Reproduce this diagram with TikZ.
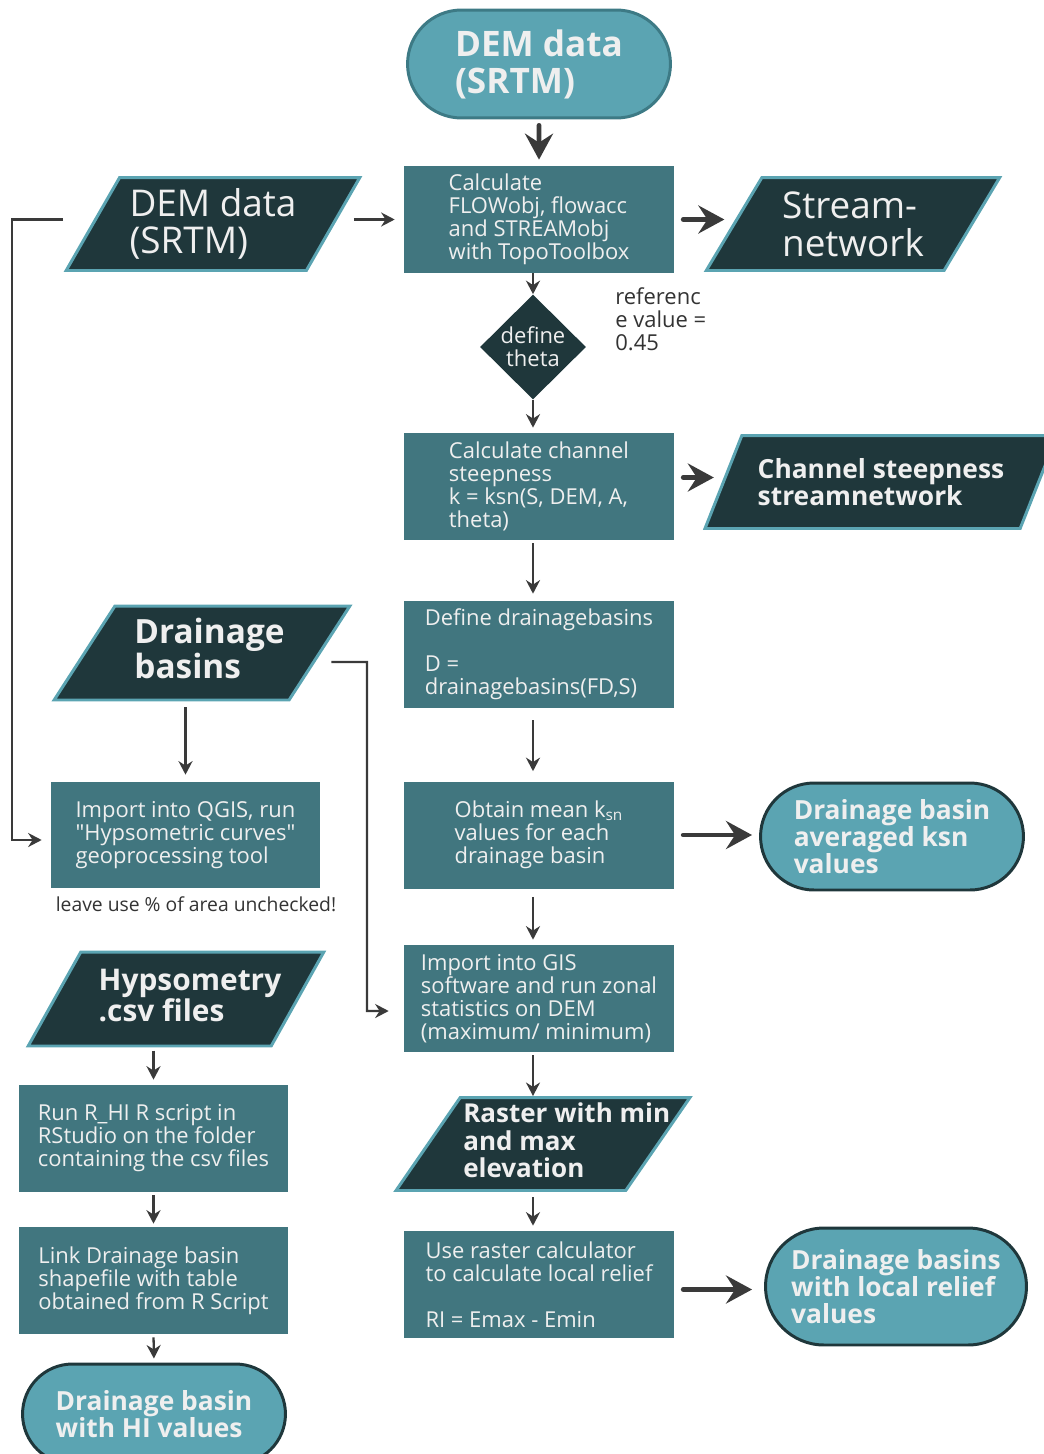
\documentclass[tikz,border=0pt]{standalone}
\usepackage{fontspec}
\setmainfont{Open Sans}
\usetikzlibrary{arrows.meta,shapes.geometric,shapes.misc}
\definecolor{procfill}{HTML}{41767F}
\definecolor{iodark}{HTML}{1F373B}
\definecolor{iolight}{HTML}{5BA4B2}
\definecolor{termfill}{HTML}{5BA4B2}
\definecolor{termedge}{HTML}{3D7A85}
\definecolor{boxtext}{HTML}{EFEFEF}
\definecolor{arrowgray}{HTML}{3A3A3A}
\definecolor{notegray}{HTML}{333333}
\def\bodyfont{\fontsize{12.5}{13.1}\selectfont}
% left-padded text block, to push the text right inside a slanted box
\def\padtext#1#2{\begin{tabular}{@{\hspace{#1}}l@{}}#2\end{tabular}}

\begin{document}
\begin{tikzpicture}[x=0.02cm, y=-0.02cm,
	procbox/.style={rectangle, fill=procfill, text=boxtext, align=left, inner sep=2pt,
		minimum width=5.4cm, minimum height=2.14cm, font=\bodyfont},
	iobox/.style={trapezium, trapezium left angle=57, trapezium right angle=123,
		trapezium stretches=true, fill=iodark, draw=iolight, line width=1.7pt,
		text=boxtext, align=left, inner sep=1pt, minimum width=5.88cm, minimum height=1.86cm},
	termbox/.style={rounded rectangle, fill=termfill, draw=iodark, line width=1.7pt,
		text=boxtext, align=left, inner sep=2pt, minimum width=5.4cm, minimum height=2.14cm,
		font=\bfseries\fontsize{15}{15.5}\selectfont},
	thinarrow/.style={draw=arrowgray, line width=1.3pt, -{Stealth[length=2.7mm, width=2.8mm]}},
	thickarrow/.style={draw=arrowgray, line width=2.8pt, line cap=round,
		-{Stealth[length=5.2mm, width=5.6mm, inset=1.8mm]}}]
			%%%%% START %%%%%
			\useasboundingbox (0, 0) rectangle (1044, 1454);
			
			% main column
			\node[termbox, draw=termedge, minimum height=2.16cm, font=\bfseries\fontsize{20}{21}\selectfont] (dem) at (539, 64) {DEM data\\(SRTM)};
			\node[procbox] (calc) at (539, 219.5) {Calculate\\FLOWobj, flowacc\\and STREAMobj\\with TopoToolbox};
			\node[diamond, fill=iodark, text=boxtext, align=center, inner sep=0pt, minimum width=2.12cm, minimum height=2.1cm, font=\bodyfont] (theta) at (533, 347) {define\\theta};
			\node[procbox] (steep) at (539, 486.5) {Calculate channel\\steepness\\k = ksn(S, DEM, A,\\theta)};
			\node[procbox] (basins) at (539, 654.5) {Define drainagebasins\\[13.1pt]D =\\drainagebasins(FD,S)};
			\node[procbox] (mean) at (539, 835) {Obtain mean k\textsubscript{sn}\\values for each\\drainage basin};
			\node[procbox] (zonal) at (539, 998.5) {Import into GIS\\software and run zonal\\statistics on DEM\\(maximum/ minimum)};
			\node[iobox, inner xsep=-1.5cm, inner ysep=-0.2cm, font=\bfseries\fontsize{14.8}{14.6}\selectfont] (raster) at (543, 1144) {\padtext{0.95cm}{Raster with min\\and max\\elevation}};
			\node[procbox] (relief) at (539, 1284.5) {Use raster calculator\\to calculate local relief\\[13.1pt]RI = Emax - Emin};
			
			% outputs on the right
			\node[iobox, font=\fontsize{21}{21.5}\selectfont] (demin) at (213, 224) {DEM data\\(SRTM)};
			\node[iobox, font=\fontsize{21}{21.5}\selectfont] (stream) at (853, 224) {Stream-\\network};
			\node[iobox, minimum width=7.06cm, font=\bfseries\fontsize{15}{15.5}\selectfont] (chsteep) at (881, 482) {Channel steepness\\streamnetwork};
			\node[termbox] (avgksn) at (892, 836.5) {Drainage basin\\averaged ksn\\values};
			\node[termbox, minimum width=5.36cm, minimum height=2.34cm] (locrel) at (896, 1286.5) {Drainage basins\\with local relief\\values};
			\node[text=notegray, align=left, anchor=north west, inner sep=0pt, font=\bodyfont] (refval) at (615, 287) {referenc\\e value =\\0.45};
			
			% left column
			\node[iobox, minimum width=5.92cm, minimum height=1.88cm, inner xsep=-0.3cm, font=\bfseries\fontsize{19}{17.5}\selectfont] (drain) at (202, 653) {\padtext{0.3cm}{Drainage\\basins}};
			\node[procbox, minimum width=5.38cm, minimum height=2.12cm] (qgis) at (185.5, 835) {Import into QGIS, run\\\textquotedbl Hypsometric curves\textquotedbl\\geoprocessing tool};
			\node[text=notegray, inner sep=0pt, font=\fontsize{11}{13}\selectfont] (unchk) at (196, 904) {leave use \% of area unchecked!};
			\node[iobox, minimum width=5.92cm, minimum height=1.88cm, inner xsep=-0.6cm, font=\bfseries\fontsize{17}{15.5}\selectfont] (hyps) at (176, 999) {\padtext{0.56cm}{Hypsometry\\.csv files}};
			\node[procbox, minimum width=5.38cm] (rscript) at (153.5, 1138.5) {Run R\_HI R script in\\RStudio on the folder\\containing the csv files};
			\node[procbox, minimum width=5.38cm] (link) at (153.5, 1280.5) {Link Drainage basin\\shapefile with table\\obtained from R Script};
			\node[termbox, minimum height=2cm] (hi) at (154, 1414) {Drainage basin\\with HI values};
			
			% connectors
			\draw[thickarrow, shorten <=0.12cm, shorten >=0.12cm] (dem) -- (calc);
			\draw[thinarrow, shorten <=0.38cm, shorten >=0.18cm] (calc.west -| demin.east) -- (calc.west);
			\draw[thickarrow, shorten <=0.18cm, shorten >=0.16cm] (calc.east) -- (calc.east -| stream.west);
			\draw[thinarrow] (calc.south -| theta.north) -- (theta.north);
			\draw[thinarrow, shorten >=0.1cm] (theta.south) -- (steep.north -| theta.north);
			\draw[thickarrow, shorten <=0.18cm, shorten >=0.16cm] ([yshift=0.18cm]steep.east) -- ([yshift=0.18cm]steep.east -| chsteep.west);
			\draw[thinarrow, shorten <=0.06cm, shorten >=0.14cm] (steep.south -| theta.north) -- (basins.north -| theta.north);
			\draw[thinarrow, shorten <=0.24cm, shorten >=0.2cm] (basins.south -| theta.north) -- (mean.north -| theta.north);
			\draw[thickarrow, shorten <=0.18cm, shorten >=0.14cm] (mean.east) -- (mean.east -| avgksn.west);
			\draw[thinarrow, shorten <=0.16cm, shorten >=0.1cm] (mean.south -| theta.north) -- (zonal.north -| theta.north);
			\draw[thinarrow, shorten <=0.06cm] (zonal.south -| theta.north) -- (raster.north -| theta.north);
			\draw[thinarrow, shorten <=0.1cm, shorten >=0.1cm] (raster.south -| theta.north) -- (relief.north -| theta.north);
			\draw[thickarrow, shorten <=0.18cm, shorten >=0.24cm] ([yshift=-0.1cm]relief.east) -- ([yshift=-0.1cm]relief.east -| locrel.west);
			
			\draw[thinarrow] ([xshift=-0.56cm]calc.west -| demin.west) -- (12, 219.5) |- ([xshift=-0.18cm, yshift=-0.1cm]qgis.west);
			\draw[thinarrow] ([xshift=0.2cm, yshift=-0.18cm]drain.east) -- (367, 662) |- ([xshift=-0.3cm, yshift=-0.25cm]zonal.west);
			\draw[thinarrow, shorten <=0.12cm, shorten >=0.14cm] (qgis.north |- drain.south) -- (qgis.north);
			\draw[thinarrow, shorten <=0.06cm, shorten >=0.1cm] (rscript.north |- hyps.south) -- (rscript.north);
			\draw[thinarrow, shorten <=0.06cm, shorten >=0.06cm] (rscript.south) -- (link.north);
			\draw[thinarrow, shorten <=0.06cm, shorten >=0.08cm] (link.south) -- (hi.north);
			
			%%%%% END %%%%%
\end{tikzpicture}
\end{document}
